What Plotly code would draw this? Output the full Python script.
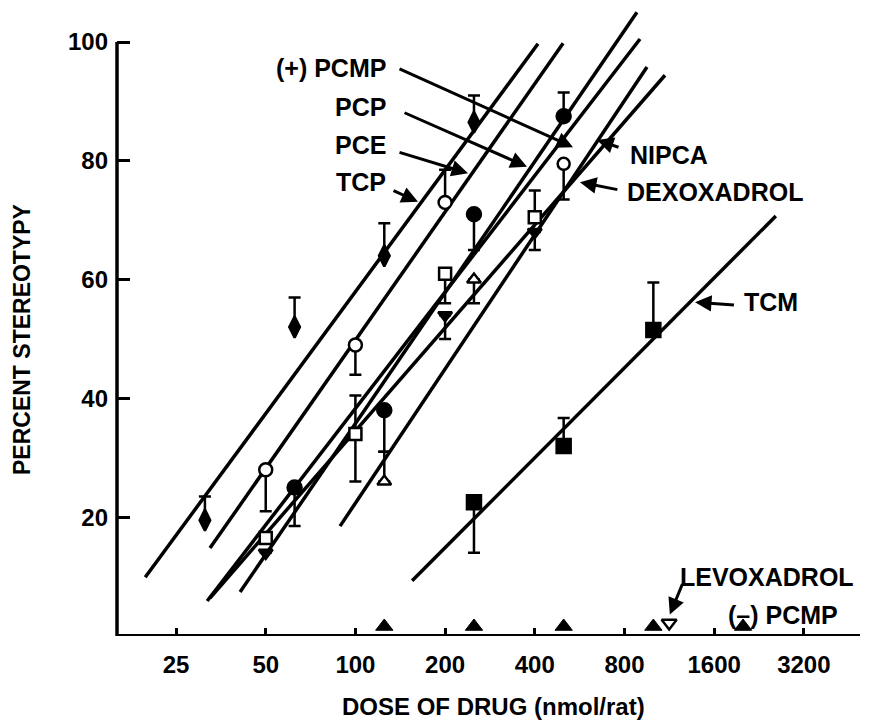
import math
import plotly.graph_objects as go

# ---------------- data ----------------
x_tickvals = [25, 50, 100, 200, 400, 800, 1600, 3200]
x_ticktext = ["25", "50", "100", "200", "400", "800", "1600", "3200"]
y_tickvals = [20, 40, 60, 80, 100]

tcp_dose = [31.25, 62.5, 125, 250]
tcp_pct = [19.5, 52, 64, 86.5]
tcp_up = [4, 5, 5.5, 4.5]
tcp_dn = [0, 0, 0, 0]

pce_dose = [50, 100, 200]
pce_pct = [28, 49, 73]
pce_up = [0, 0, 5.5]
pce_dn = [7, 5, 0]

pcp_dose = [62.5, 125, 250, 500]
pcp_pct = [25, 38, 71, 87.5]
pcp_up = [0, 0, 0, 4]
pcp_dn = [6.5, 7, 6, 0]

pcmp_p_dose = [50, 100, 200, 400]
pcmp_p_pct = [16.5, 34, 61, 70.5]
pcmp_p_up = [0, 6.5, 0, 4.5]
pcmp_p_dn = [0, 8, 5, 0]

nipca_dose = [125, 250, 500]
nipca_pct = [26, 60, 79.5]
nipca_up = [5, 0, 0]
nipca_dn = [0, 4, 6]

dex_dose = [50, 200, 400]
dex_pct = [14, 54, 68]
dex_up = [0, 0, 0]
dex_dn = [0, 4, 3]

tcm_dose = [250, 500, 1000]
tcm_pct = [22.5, 32, 51.5]
tcm_up = [0, 4.7, 8]
tcm_dn = [8.5, 0, 0]

inactive_dose = [125, 250, 500, 1000, 2000]
inactive_pct = [1.6, 1.6, 1.6, 1.6, 1.6]
levo_dose = [1130]
levo_pct = [2.2]

# regression lines: (dose_lo, pct_lo, dose_hi, pct_hi)
fit_tcp = [19.7, 9.9, 410, 99.7]
fit_pce = [32.5, 14.8, 498, 99.8]
fit_pcp = [41.0, 7.4, 881, 105.0]
fit_pcmp_p = [31.8, 5.9, 902, 100.5]
fit_nipca = [88.8, 18.5, 952, 95.8]
fit_dex = [32.5, 6.4, 1094, 94.4]
fit_tcm = [155, 9.3, 2577, 70.7]

# ---------------- figure ----------------
L = math.log10
fig = go.Figure()

for f in [fit_tcp, fit_pce, fit_pcp, fit_pcmp_p, fit_nipca, fit_dex, fit_tcm]:
    fig.add_trace(go.Scatter(x=[f[0], f[2]], y=[f[1], f[3]], mode="lines",
                             line=dict(color="black", width=3.5), hoverinfo="skip"))


def pts(dose, pct, up, dn, symbol, fill, size=13):
    fig.add_trace(go.Scatter(
        x=dose, y=pct, mode="markers",
        marker=dict(symbol=symbol, size=size, color=fill,
                    line=dict(color="black", width=2.5)),
        error_y=dict(type="data", symmetric=False, array=up, arrayminus=dn,
                     color="black", thickness=2.5, width=6),
    ))


pts(tcp_dose, tcp_pct, tcp_up, tcp_dn, "diamond-tall", "black", 15)
pts(pce_dose, pce_pct, pce_up, pce_dn, "circle", "white", 13)
pts(pcp_dose, pcp_pct, pcp_up, pcp_dn, "circle", "black", 14)
pts(pcmp_p_dose, pcmp_p_pct, pcmp_p_up, pcmp_p_dn, "square", "white", 12)
pts(nipca_dose, nipca_pct, nipca_up, nipca_dn,
    ["triangle-up", "triangle-up", "circle"], "white", 12)
pts(dex_dose, dex_pct, dex_up, dex_dn, "triangle-down", "black", 12)
pts(tcm_dose, tcm_pct, tcm_up, tcm_dn, "square", "black", 14)

fig.add_trace(go.Scatter(x=inactive_dose, y=inactive_pct, mode="markers",
                         marker=dict(symbol="triangle-up", size=15, color="black",
                                     line=dict(color="black", width=1))))
fig.add_trace(go.Scatter(x=levo_dose, y=levo_pct, mode="markers",
                         marker=dict(symbol="triangle-down", size=13, color="white",
                                     line=dict(color="black", width=2.5))))

FONT = "Liberation Sans"
lab_font = dict(family=FONT, size=25, color="black", weight="bold")

annotations = []
# (text, dose, pct, xanchor)
labels = [
    ("(+) PCMP", 128.6, 95.6, "right"),
    ("PCP", 128.6, 89.1, "right"),
    ("PCE", 128.6, 82.7, "right"),
    ("TCP", 128.6, 76.4, "right"),
    ("NIPCA", 822, 81.0, "left"),
    ("DEXOXADROL", 805, 74.7, "left"),
    ("TCM", 1984, 56.2, "left"),
    ("LEVOXADROL", 1209, 9.9, "left"),
    ("(\u2013) PCMP", 2722, 3.6, "center"),
]
for t, d, p, xa in labels:
    annotations.append(dict(text=t, x=L(d), y=p, xref="x", yref="y", xanchor=xa,
                            yanchor="middle", showarrow=False, font=lab_font))

# leaders: (tip_dose, tip_pct, tail_dose, tail_pct)
leaders = [
    (537.6, 82.3, 139, 95.6),
    (376.6, 79.0, 144.5, 88.2),
    (238.8, 77.9, 139, 81.5),
    (162.2, 73.1, 132.7, 75.1),
    (647, 83.5, 773, 82.2),
    (567, 76.4, 766, 75.1),
    (1380, 56.2, 1886, 55.7),
    (1136, 3.6, 1258, 9.0),
]
for td, tp, ad, ap in leaders:
    annotations.append(dict(text="", x=L(td), y=tp, ax=L(ad), ay=ap,
                            xref="x", yref="y", axref="x", ayref="y",
                            showarrow=True, arrowhead=2, arrowsize=1.1,
                            arrowwidth=3, arrowcolor="black", standoff=0))

annotations.append(dict(text="DOSE OF DRUG (nmol/rat)", x=0.5, y=0, xref="paper",
                        yref="paper", xanchor="center", yanchor="middle", yshift=-70,
                        showarrow=False, font=dict(family=FONT, size=24, color="black", weight="bold")))
annotations.append(dict(text="PERCENT STEREOTYPY", x=0, y=(636 - 340) / 636, xref="paper",
                        yref="paper", xanchor="center", yanchor="middle", xshift=-95,
                        textangle=-90, showarrow=False,
                        font=dict(family=FONT, size=23, color="black", weight="bold")))

shapes = [
    dict(type="line", xref="paper", yref="y", x0=0, x1=0, y0=0, y1=100,
         line=dict(color="black", width=3.5), layer="above"),
    dict(type="line", xref="paper", yref="y", x0=0, x1=(860 - 117) / 752, y0=0, y1=0,
         line=dict(color="black", width=4), layer="above"),
]

tick_font = dict(family=FONT, size=24, color="black", weight="bold")
fig.update_layout(
    width=869, height=726,
    margin=dict(l=117, r=0, t=0, b=90),
    paper_bgcolor="white", plot_bgcolor="white",
    showlegend=False,
    annotations=annotations, shapes=shapes,
    xaxis=dict(type="log", range=[L(15.84), L(5295)], tickvals=x_tickvals,
               ticktext=x_ticktext, ticks="inside", ticklen=8, tickwidth=2.5,
               tickcolor="black", showgrid=False, zeroline=False, showline=False,
               tickfont=tick_font, ticklabelstandoff=12),
    yaxis=dict(range=[0, 636 / 5.94], tickvals=y_tickvals, ticks="inside", ticklen=13,
               tickwidth=3, tickcolor="black", showgrid=False, zeroline=False,
               showline=False, tickfont=tick_font, ticklabelstandoff=8),
)

fig.write_html("out.html")
